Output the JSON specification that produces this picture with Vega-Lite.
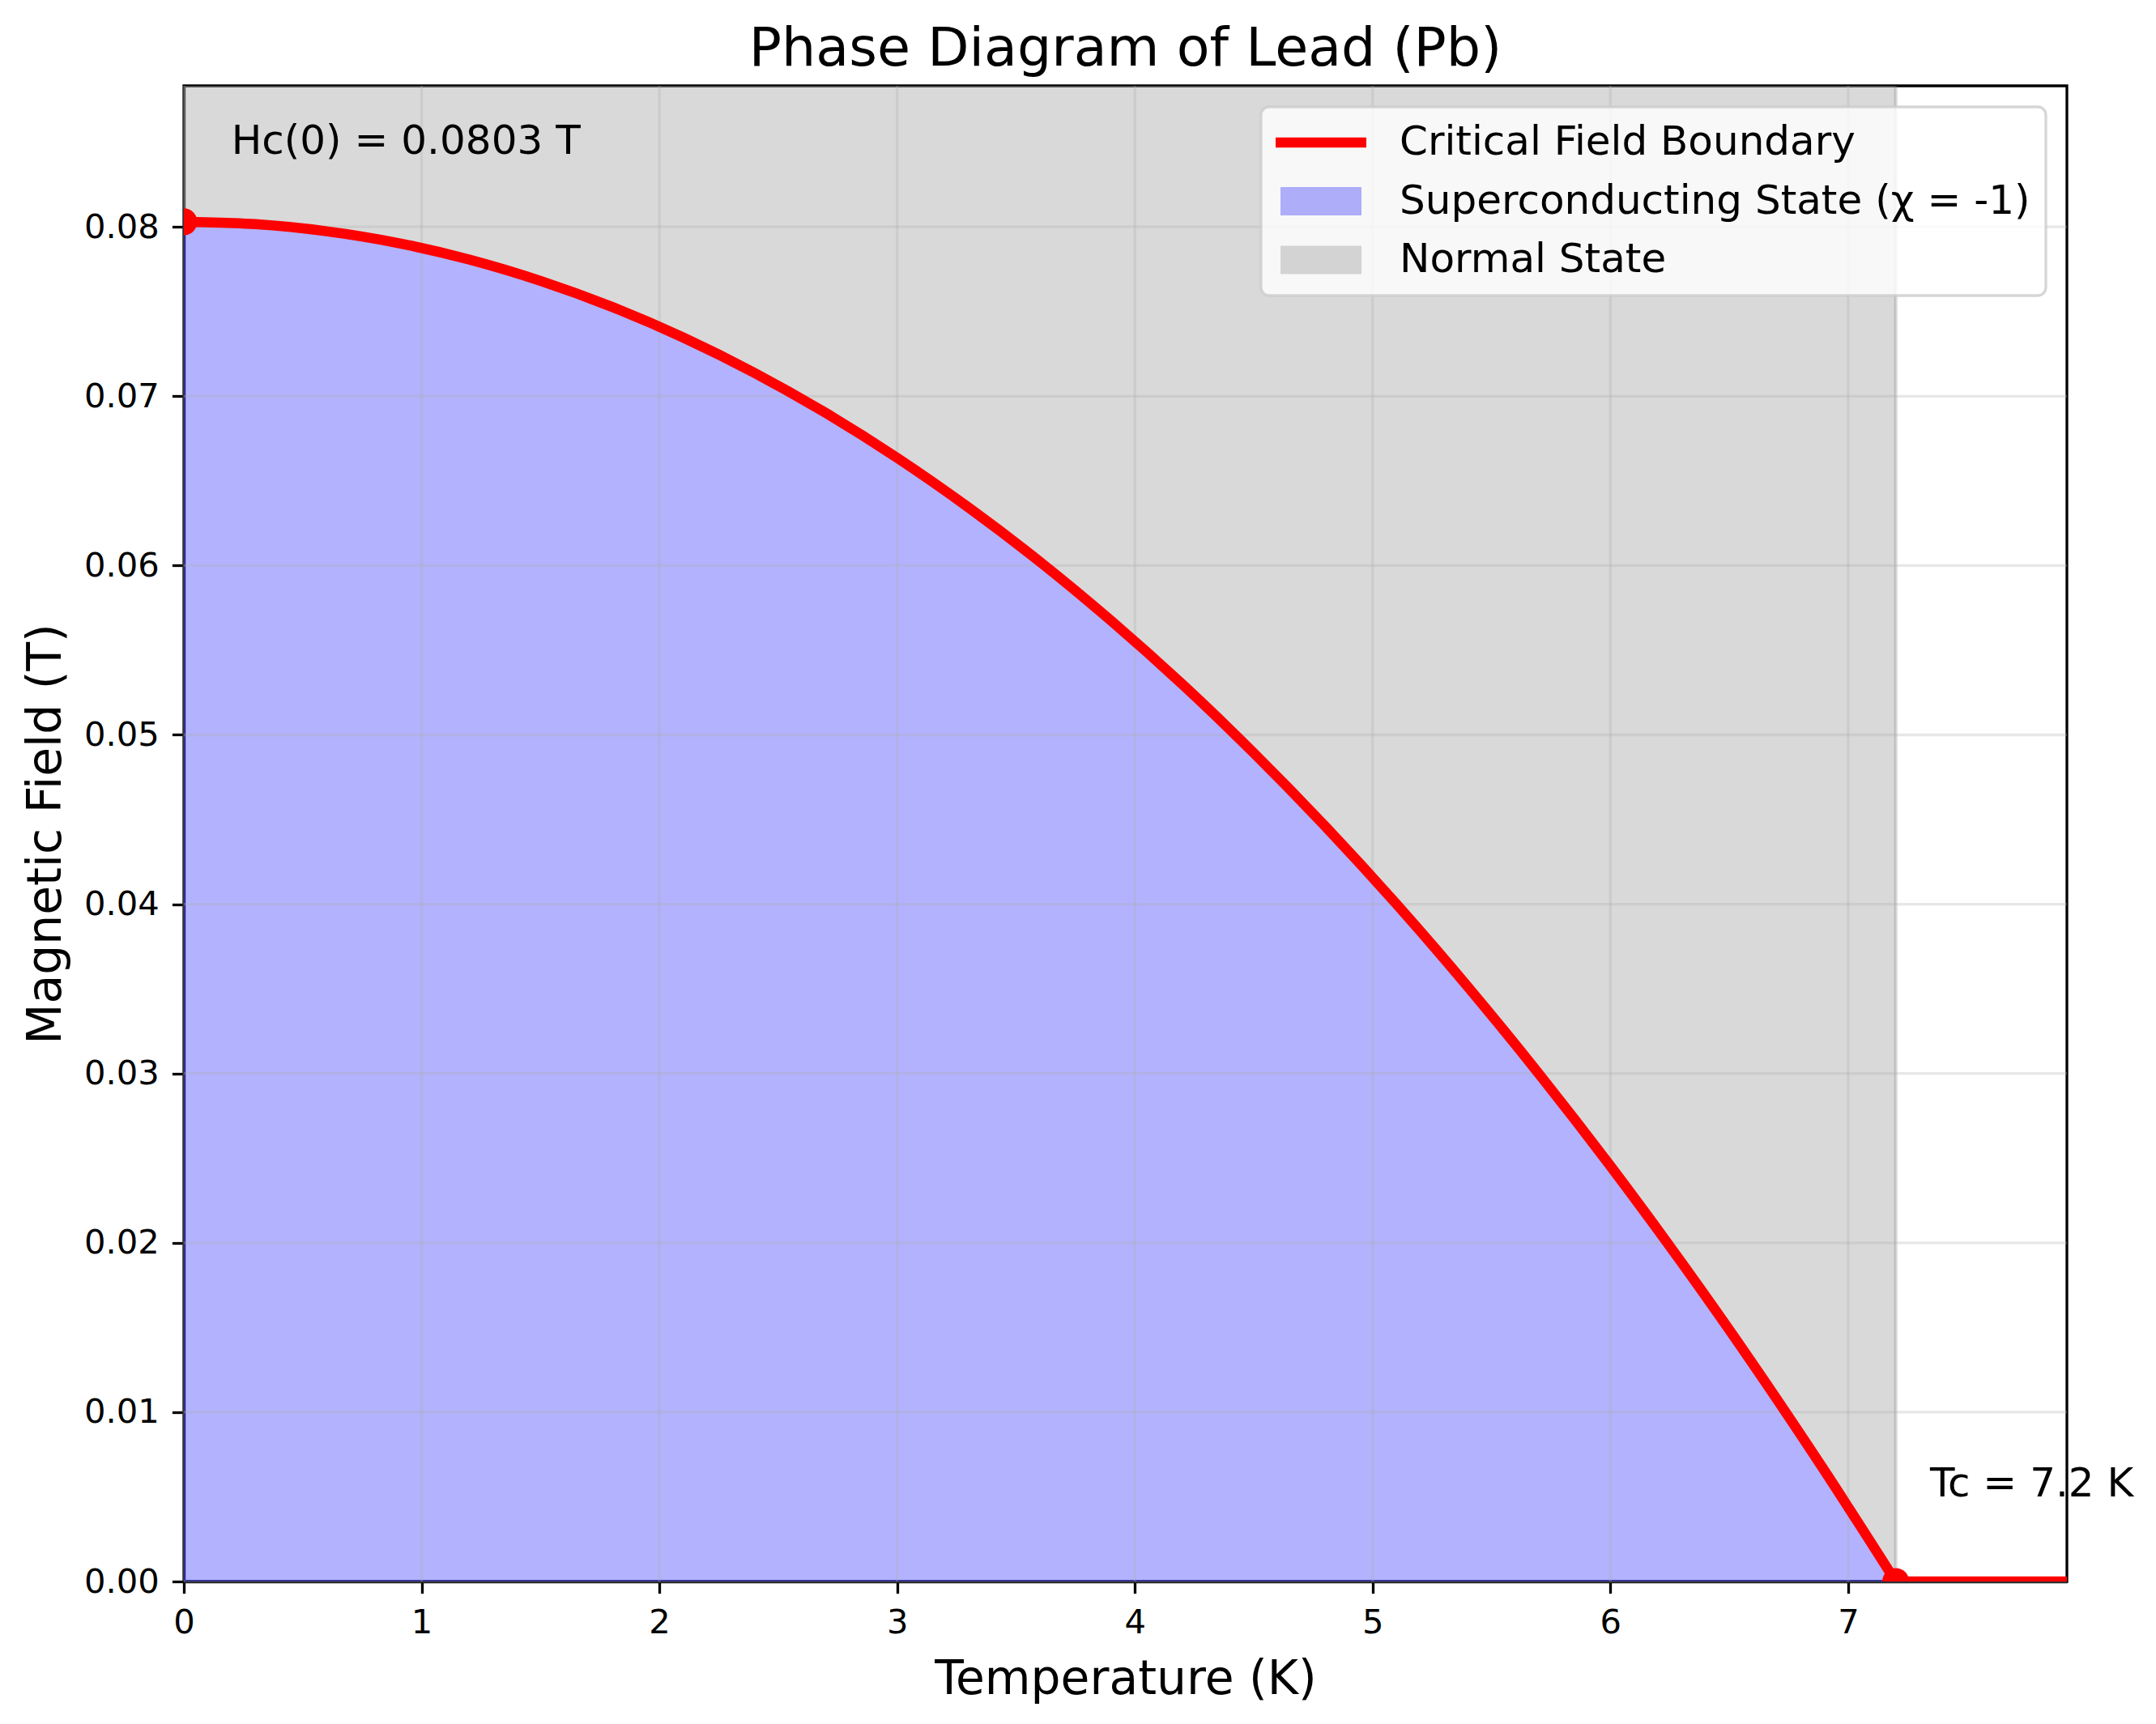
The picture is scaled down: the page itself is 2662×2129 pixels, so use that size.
{
  "$schema": "https://vega.github.io/schema/vega-lite/v6.json",
  "autosize": {"type": "none"},
  "padding": {"left": 227, "top": 106, "right": 110, "bottom": 176},
  "width": 2325,
  "height": 1847,
  "background": "white",
  "title": {
    "text": "Phase Diagram of Lead (Pb)",
    "font": "DejaVu Sans",
    "fontSize": 66.7,
    "fontWeight": "normal",
    "color": "black",
    "anchor": "middle",
    "frame": "group",
    "baseline": "bottom",
    "offset": 11,
    "dy": 68
  },
  "datasets": {
    "curve": [
      {"T": 0.0, "H": 0.0803},
      {"T": 0.3, "H": 0.08016},
      {"T": 0.6, "H": 0.07974},
      {"T": 0.9, "H": 0.07905},
      {"T": 1.2, "H": 0.07807},
      {"T": 1.5, "H": 0.07681},
      {"T": 1.8, "H": 0.07528},
      {"T": 2.1, "H": 0.07347},
      {"T": 2.4, "H": 0.07138},
      {"T": 2.7, "H": 0.06901},
      {"T": 3.0, "H": 0.06636},
      {"T": 3.3, "H": 0.06343},
      {"T": 3.6, "H": 0.06023},
      {"T": 3.9, "H": 0.05674},
      {"T": 4.2, "H": 0.05298},
      {"T": 4.5, "H": 0.04893},
      {"T": 4.8, "H": 0.04461},
      {"T": 5.1, "H": 0.04001},
      {"T": 5.4, "H": 0.03513},
      {"T": 5.7, "H": 0.02997},
      {"T": 6.0, "H": 0.02454},
      {"T": 6.3, "H": 0.01882},
      {"T": 6.6, "H": 0.01283},
      {"T": 6.9, "H": 0.00655},
      {"T": 7.2, "H": 0.0},
      {"T": 7.92, "H": 0.0}
    ],
    "gridx": [
      {"T": 0}, {"T": 1}, {"T": 2}, {"T": 3}, {"T": 4}, {"T": 5}, {"T": 6}, {"T": 7}
    ],
    "gridy": [
      {"H": 0.0}, {"H": 0.01}, {"H": 0.02}, {"H": 0.03}, {"H": 0.04},
      {"H": 0.05}, {"H": 0.06}, {"H": 0.07}, {"H": 0.08}
    ],
    "ends": [
      {"T": 0.0, "H": 0.0803},
      {"T": 7.2, "H": 0.0}
    ],
    "notes": [
      {"T": 0.2, "H": 0.0843, "label": "Hc(0) = 0.0803 T"},
      {"T": 7.344, "H": 0.005, "label": "Tc = 7.2 K"}
    ],
    "legend_items": [
      {"series": "Critical Field Boundary"},
      {"series": "Superconducting State (χ = -1)"},
      {"series": "Normal State"}
    ]
  },
  "layer": [
    {
      "data": {"name": "curve"},
      "transform": [{"filter": "datum.T <= 7.2"}],
      "mark": {
        "type": "area",
        "clip": true,
        "interpolate": "monotone",
        "fill": "#808080",
        "fillOpacity": 0.3,
        "stroke": "#808080",
        "strokeOpacity": 0.3,
        "strokeWidth": 4.2
      },
      "encoding": {
        "x": {
          "field": "T",
          "type": "quantitative",
          "scale": {"domain": [0, 7.92], "nice": false, "zero": false},
          "axis": {
            "title": "Temperature (K)",
            "values": [0, 1, 2, 3, 4, 5, 6, 7],
            "format": "d",
            "labelPadding": 16,
            "titlePadding": 20
          }
        },
        "y": {
          "field": "H",
          "type": "quantitative",
          "scale": {"domain": [0, 0.08833], "nice": false, "zero": false},
          "axis": {
            "title": "Magnetic Field (T)",
            "values": [0, 0.01, 0.02, 0.03, 0.04, 0.05, 0.06, 0.07, 0.08],
            "format": ".2f",
            "labelPadding": 16,
            "titlePadding": 17
          }
        },
        "y2": {"datum": 0.08833}
      }
    },
    {
      "data": {"name": "curve"},
      "transform": [{"filter": "datum.T <= 7.2"}],
      "mark": {
        "type": "area",
        "clip": true,
        "interpolate": "monotone",
        "fill": "#0000ff",
        "fillOpacity": 0.3,
        "stroke": "#0000ff",
        "strokeOpacity": 0.3,
        "strokeWidth": 4.2
      },
      "encoding": {
        "x": {"field": "T", "type": "quantitative"},
        "y": {"field": "H", "type": "quantitative"},
        "y2": {"datum": 0}
      }
    },
    {
      "data": {"name": "gridx"},
      "mark": {"type": "rule", "color": "#b0b0b0", "opacity": 0.3, "strokeWidth": 3.3},
      "encoding": {
        "x": {"field": "T", "type": "quantitative"}
      }
    },
    {
      "data": {"name": "gridy"},
      "mark": {"type": "rule", "color": "#b0b0b0", "opacity": 0.3, "strokeWidth": 3.3},
      "encoding": {
        "y": {"field": "H", "type": "quantitative"}
      }
    },
    {
      "data": {"name": "curve"},
      "transform": [{"filter": "datum.T <= 7.2"}],
      "mark": {"type": "line", "clip": true, "interpolate": "monotone", "color": "#ff0000", "strokeWidth": 12.5, "strokeJoin": "round"},
      "encoding": {
        "x": {"field": "T", "type": "quantitative"},
        "y": {"field": "H", "type": "quantitative"}
      }
    },
    {
      "data": {"name": "curve"},
      "transform": [{"filter": "datum.T >= 7.2"}],
      "mark": {"type": "line", "clip": true, "color": "#ff0000", "strokeWidth": 12.5, "strokeJoin": "round"},
      "encoding": {
        "x": {"field": "T", "type": "quantitative"},
        "y": {"field": "H", "type": "quantitative"}
      }
    },
    {
      "data": {"name": "ends"},
      "mark": {"type": "point", "shape": "circle", "filled": true, "clip": true, "color": "#ff0000", "opacity": 1, "size": 1100},
      "encoding": {
        "x": {"field": "T", "type": "quantitative"},
        "y": {"field": "H", "type": "quantitative"}
      }
    },
    {
      "data": {"name": "notes"},
      "mark": {"type": "text", "align": "left", "baseline": "alphabetic", "fontSize": 50, "font": "DejaVu Sans", "color": "black"},
      "encoding": {
        "x": {"field": "T", "type": "quantitative"},
        "y": {"field": "H", "type": "quantitative"},
        "text": {"field": "label"}
      }
    },
    {
      "data": {"name": "legend_items"},
      "mark": {"type": "point", "filled": true, "size": 0, "opacity": 1},
      "encoding": {
        "color": {
          "field": "series",
          "type": "nominal",
          "scale": {
            "domain": ["Critical Field Boundary", "Superconducting State (χ = -1)", "Normal State"],
            "range": ["#ff0000", "#adadfa", "#d3d3d3"]
          },
          "legend": {
            "title": null,
            "orient": "top-right",
            "offset": 26,
            "padding": 19,
            "fillColor": "rgba(255,255,255,0.8)",
            "strokeColor": "rgba(204,204,204,0.8)",
            "cornerRadius": 10,
            "labelFont": "DejaVu Sans",
            "labelFontSize": 50,
            "labelColor": "black",
            "labelLimit": 3000,
            "labelOffset": 102,
            "rowPadding": 22.5,
            "symbolSize": 1600,
            "symbolStrokeWidth": 0,
            "symbolOpacity": 1
          }
        },
        "shape": {
          "field": "series",
          "type": "nominal",
          "scale": {
            "domain": ["Critical Field Boundary", "Superconducting State (χ = -1)", "Normal State"],
            "range": [
              "M-1.3,-0.3125L4.3,-0.3125L4.3,0.3125L-1.3,0.3125Z",
              "M-1,-0.875L4,-0.875L4,0.875L-1,0.875Z",
              "M-1,-0.875L4,-0.875L4,0.875L-1,0.875Z"
            ]
          }
        }
      }
    }
  ],
  "config": {
    "font": "DejaVu Sans",
    "view": {"stroke": "black", "strokeWidth": 3.3},
    "legend": {"strokeWidth": 3.3},
    "axis": {
      "domainColor": "black",
      "domainWidth": 3.3,
      "tickColor": "black",
      "tickWidth": 3.3,
      "tickSize": 14.6,
      "labelFont": "DejaVu Sans",
      "labelFontSize": 41.7,
      "labelColor": "black",
      "labelFlush": false,
      "labelOverlap": false,
      "titleFont": "DejaVu Sans",
      "titleFontSize": 58.3,
      "titleFontWeight": "normal",
      "titleColor": "black",
      "grid": false,
      "zindex": 1
    }
  }
}
